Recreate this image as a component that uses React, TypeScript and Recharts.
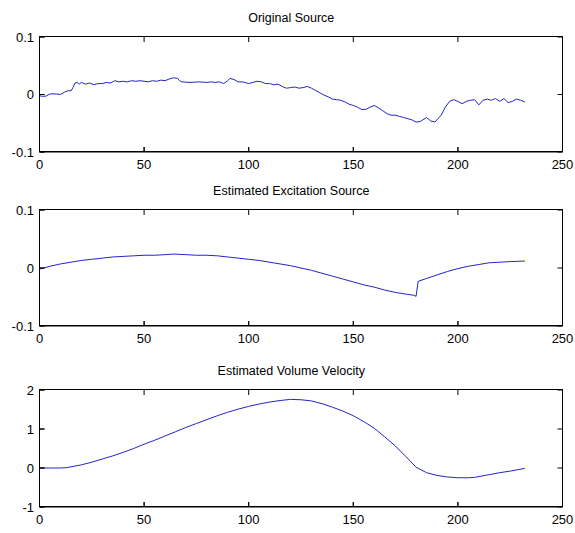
import React from 'react';
import { LineChart, Line, XAxis, YAxis, CartesianGrid } from 'recharts';

// x positions and values
const xTicks = [0, 50, 100, 150, 200, 250];

const sourceX = [
  0, 1, 3, 5, 8, 10, 12, 14, 15, 16, 17, 18, 19, 20, 22, 24, 26, 28, 30, 32, 34, 36, 38, 40, 42, 44, 46, 48,
  50, 52, 54, 56, 58, 60, 62, 64, 66, 67, 68, 72, 76, 80, 82, 84, 86, 88, 90, 91, 93, 95, 97, 100, 102, 104,
  106, 108, 110, 112, 114, 116, 118, 120, 122, 124, 126, 128, 130, 132, 134, 136, 138, 140, 142, 144, 146,
  148, 150, 152, 154, 156, 158, 160, 162, 164, 166, 168, 170, 172, 174, 176, 178, 180, 182, 185, 187, 189,
  192, 194, 196, 198, 200, 202, 204, 206, 208, 210, 212, 214, 216, 218, 220, 222, 224, 226, 228, 230, 232,
];
const sourceY = [
  -0.002, -0.003, -0.003, 0.001, 0.001, 0.0, 0.004, 0.007, 0.006, 0.012, 0.02, 0.021, 0.018, 0.021, 0.018,
  0.02, 0.017, 0.019, 0.019, 0.021, 0.02, 0.024, 0.022, 0.023, 0.022, 0.024, 0.023, 0.024, 0.023, 0.022,
  0.024, 0.023, 0.025, 0.024, 0.027, 0.029, 0.028, 0.024, 0.022, 0.021, 0.022, 0.021, 0.022, 0.021, 0.022,
  0.019, 0.024, 0.028, 0.026, 0.022, 0.022, 0.019, 0.021, 0.023, 0.022, 0.019, 0.019, 0.017, 0.018, 0.014,
  0.011, 0.012, 0.013, 0.011, 0.012, 0.014, 0.011, 0.007, 0.003, -0.001, -0.004, -0.008, -0.009, -0.01,
  -0.013, -0.017, -0.019, -0.022, -0.026, -0.026, -0.022, -0.019, -0.023, -0.028, -0.033, -0.036, -0.036,
  -0.038, -0.04, -0.042, -0.044, -0.048, -0.047, -0.04, -0.046, -0.048, -0.036, -0.022, -0.012, -0.009,
  -0.012, -0.016, -0.012, -0.01, -0.009, -0.018, -0.01, -0.008, -0.01, -0.007, -0.012, -0.007, -0.014,
  -0.012, -0.008, -0.01, -0.013,
];

const excitationX = [
  0, 5, 10, 15, 20, 25, 30, 35, 40, 45, 50, 55, 60, 64, 70, 75, 80, 85, 90, 95, 100, 105, 110, 115, 120, 125,
  130, 135, 140, 145, 150, 155, 160, 165, 170, 175, 179, 180, 181, 185, 190, 195, 200, 205, 210, 215, 220,
  225, 232,
];
const excitationY = [
  -0.002, 0.003, 0.007, 0.01, 0.013, 0.015, 0.017, 0.019, 0.02, 0.021, 0.022, 0.022, 0.023, 0.024, 0.023,
  0.022, 0.022, 0.021, 0.019, 0.017, 0.015, 0.013, 0.01, 0.007, 0.004, 0.0, -0.004, -0.009, -0.014, -0.019,
  -0.024, -0.029, -0.033, -0.038, -0.042, -0.045, -0.047, -0.049, -0.023, -0.018, -0.012, -0.006, -0.001,
  0.003, 0.006, 0.009, 0.01, 0.011, 0.012,
];

const velocityX = [
  0, 5, 10, 13, 15, 20, 25, 30, 35, 40, 45, 50, 55, 60, 65, 70, 75, 80, 85, 90, 95, 100, 105, 110, 115, 120,
  125, 130, 135, 140, 145, 150, 155, 160, 165, 170, 175, 180, 185, 190, 195, 200, 205, 208, 215, 220, 225,
  232,
];
const velocityY = [
  0, 0, 0, 0.01, 0.03, 0.08, 0.15, 0.23, 0.31, 0.4, 0.5, 0.61, 0.71, 0.82, 0.93, 1.04, 1.14, 1.24, 1.34,
  1.43, 1.51, 1.58, 1.64, 1.69, 1.73, 1.76, 1.75, 1.72, 1.65, 1.56, 1.46, 1.34, 1.19, 1.02, 0.8, 0.57, 0.3,
  0.02, -0.12, -0.19, -0.23, -0.25, -0.25, -0.24, -0.17, -0.12, -0.08, -0.01,
];

const toRows = (xs: number[], ys: number[]) => xs.map((x, i) => ({ x, y: ys[i] }));

const FONT = '"Liberation Sans", Arial, sans-serif';
const LINE_COLOR = '#2424c8';
const CHART_W = 575;
const MARGIN_TOP = 10;
const MARGIN_RIGHT = 12.5;
const Y_AXIS_W = 39.5;
const X_AXIS_H = 25;
const TICK_LEN = 5;

// grid lines reduced to MATLAB-style inward ticks at both ends
const hTicks = (p: any) => (
  <g key={`h-${p.index}`}>
    <line x1={p.x1} x2={p.x1 + TICK_LEN} y1={p.y1} y2={p.y2} stroke="#000" />
    <line x1={p.x2 - TICK_LEN} x2={p.x2} y1={p.y1} y2={p.y2} stroke="#000" />
  </g>
);
const vTicks = (p: any) => (
  <g key={`v-${p.index}`}>
    <line x1={p.x1} x2={p.x2} y1={p.y1} y2={p.y1 + TICK_LEN} stroke="#000" />
    <line x1={p.x1} x2={p.x2} y1={p.y2 - TICK_LEN} y2={p.y2} stroke="#000" />
  </g>
);

interface PanelProps {
  title: string;
  rows: { x: number; y: number }[];
  top: number;
  plotH: number;
  yDomain: [number, number];
  yTicks: number[];
}

const Panel: React.FC<PanelProps> = ({ title, rows, top, plotH, yDomain, yTicks }) => {
  const tickStyle = { fill: '#000', fontSize: 13, fontFamily: FONT };
  return (
    <>
      <div
        style={{
          position: 'absolute',
          left: 30,
          width: 522.5,
          top: top - 26,
          textAlign: 'center',
          fontFamily: FONT,
          fontSize: 12.5,
          lineHeight: '14px',
          color: '#000',
        }}
      >
        {title}
      </div>
      <div style={{ position: 'absolute', left: 0, top: top - MARGIN_TOP }}>
        <LineChart
          width={CHART_W}
          height={MARGIN_TOP + plotH + X_AXIS_H}
          data={rows}
          margin={{ top: MARGIN_TOP, right: MARGIN_RIGHT, bottom: 0, left: 0 }}
        >
          <CartesianGrid horizontal={hTicks as any} vertical={vTicks as any} />
          <XAxis
            type="number"
            dataKey="x"
            domain={[0, 250]}
            ticks={xTicks}
            interval={0}
            height={X_AXIS_H}
            tickSize={-TICK_LEN}
            tickMargin={13}
            stroke="#000"
            tick={tickStyle}
          />
          <YAxis
            type="number"
            domain={yDomain}
            ticks={yTicks}
            interval={0}
            width={Y_AXIS_W}
            tickSize={-TICK_LEN}
            tickMargin={10.5}
            stroke="#000"
            tick={tickStyle}
          />
          <Line
            type="linear"
            dataKey="y"
            stroke={LINE_COLOR}
            strokeWidth={1}
            dot={false}
            activeDot={false}
            isAnimationActive={false}
          />
        </LineChart>
      </div>
      {/* axes box (top and right edges) */}
      <div
        style={{
          position: 'absolute',
          left: Math.floor(Y_AXIS_W),
          top: Math.floor(top),
          width: Math.floor(CHART_W - MARGIN_RIGHT) - Math.floor(Y_AXIS_W) + 1,
          height: plotH + 1,
          boxSizing: 'border-box',
          border: '1px solid #000',
          pointerEvents: 'none',
        }}
      />
    </>
  );
};

export default function App() {
  return (
    <div style={{ position: 'absolute', left: 0, top: 0, width: 575, height: 533, background: '#fff' }}>
      <Panel
        title="Original Source"
        rows={toRows(sourceX, sourceY)}
        top={36.5}
        plotH={115}
        yDomain={[-0.1, 0.1]}
        yTicks={[-0.1, 0, 0.1]}
      />
      <Panel
        title="Estimated Excitation Source"
        rows={toRows(excitationX, excitationY)}
        top={209.5}
        plotH={116}
        yDomain={[-0.1, 0.1]}
        yTicks={[-0.1, 0, 0.1]}
      />
      <Panel
        title="Estimated Volume Velocity"
        rows={toRows(velocityX, velocityY)}
        top={389.5}
        plotH={117}
        yDomain={[-1, 2]}
        yTicks={[-1, 0, 1, 2]}
      />
    </div>
  );
}
